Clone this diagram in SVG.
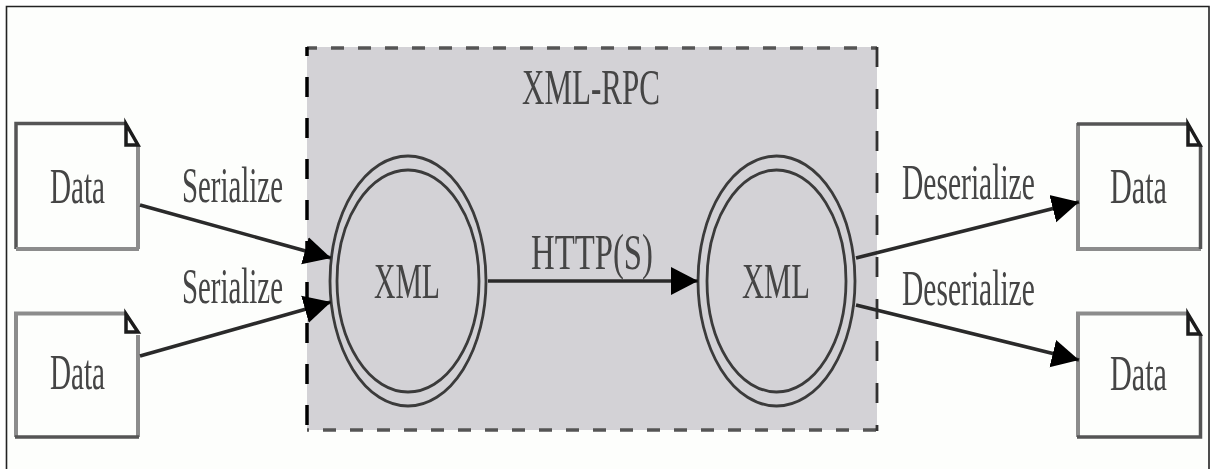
<svg xmlns="http://www.w3.org/2000/svg" width="1214" height="469" viewBox="0 0 1214 469">
<style>
text{font-family:"Liberation Serif","Times New Roman",serif;font-size:50px;fill:#444;text-anchor:start}
.paper{fill:#fdfefc}
.dk{fill:none;stroke:#555;stroke-width:3.5}
.lt{fill:none;stroke:#8c8c8c;stroke-width:4}
.fold{fill:#fdfefc;stroke:#1a1a1a;stroke-width:3.5}
.oval{fill:#d3d2d6;stroke:#3a3a3a;stroke-width:2.8}
.edge{fill:none;stroke:#2a2a2a;stroke-width:3.6}
.dash{fill:none;stroke:#555;stroke-width:3.5;stroke-dasharray:13 14}
.vdash{fill:none;stroke-width:3.5;stroke-dasharray:20 21}
</style>
<defs>
<filter id="soft" x="-1%" y="-1%" width="102%" height="102%"><feGaussianBlur stdDeviation="0.45"/></filter>
<marker id="arrow" markerUnits="userSpaceOnUse" markerWidth="28" markerHeight="30" refX="27" refY="15" orient="auto"><path d="M0 1L27 15L0 29Z" fill="#000"/></marker>
</defs>
<rect width="1214" height="469" fill="#fff"/>
<g filter="url(#soft)">
<path d="M6.500 469V6.500H1209V469" fill="#fdfefc" stroke="#222" stroke-width="1.6"/>
<g id="cluster">
<rect x="307" y="47" width="570" height="383" fill="#d3d2d6"/>
<path class="dash" style="stroke-dashoffset:3" d="M307 48H877"/>
<path class="dash" style="stroke-dashoffset:11" d="M307 430H877"/>
<path class="vdash" style="stroke:#000;stroke-dashoffset:11" d="M307 47V431"/>
<path class="vdash" style="stroke:#333;stroke-width:2.8;stroke-dasharray:20 22" d="M877 47V431"/>
<text x="522" y="104" textLength="138" lengthAdjust="spacingAndGlyphs">XML-RPC</text>
</g>
<g id="doc1"><path class="paper" d="M16 123H126L139 146V249H16Z"/><path class="dk" d="M16 249V123.500H126"/><path class="lt" d="M138 146V249M16 249H139"/><path class="fold" d="M126 124V145H138Z"/><text x="50" y="203" textLength="55" lengthAdjust="spacingAndGlyphs">Data</text></g>
<g id="doc2"><path class="paper" d="M16 313H126L139 335V437H16Z"/><path class="lt" d="M16 437V313.500H126M138 335V437"/><path class="dk" d="M15 437H139"/><path class="fold" d="M126 314V332H138Z"/><text x="50" y="389" textLength="55" lengthAdjust="spacingAndGlyphs">Data</text></g>
<g id="doc3"><path class="paper" d="M1078 123H1188L1201 146V249H1078Z"/><path class="lt" d="M1078 123V249H1201"/><path class="dk" d="M1077 124H1188M1200.500 146V249"/><path class="fold" d="M1188 124V145H1200Z"/><text x="1110" y="203" textLength="57" lengthAdjust="spacingAndGlyphs">Data</text></g>
<g id="doc4"><path class="paper" d="M1078 313H1188L1201 335V437H1078Z"/><path class="lt" d="M1078 437V313.500H1188"/><path class="dk" d="M1200.500 335V437H1077"/><path class="fold" d="M1188 314V334H1200Z"/><text x="1110" y="390" textLength="57" lengthAdjust="spacingAndGlyphs">Data</text></g>
<g id="xml1"><ellipse class="oval" cx="408" cy="281" rx="78" ry="125"/><ellipse class="oval" cx="408" cy="281" rx="71" ry="111"/><text x="374" y="298" textLength="66" lengthAdjust="spacingAndGlyphs">XML</text></g>
<g id="xml2"><ellipse class="oval" cx="776.500" cy="281" rx="78.500" ry="125"/><ellipse class="oval" cx="776.500" cy="281" rx="69.500" ry="111"/><text x="742" y="298" textLength="68" lengthAdjust="spacingAndGlyphs">XML</text></g>
<g id="connectors">
<path class="edge" marker-end="url(#arrow)" d="M140 205L331 258"/>
<path class="edge" marker-end="url(#arrow)" d="M140 356L331 302"/>
<path class="edge" marker-end="url(#arrow)" d="M488 281H698"/>
<path class="edge" marker-end="url(#arrow)" d="M856 258L1079 202"/>
<path class="edge" marker-end="url(#arrow)" d="M856 305L1079 360"/>
</g>
<g id="labels">
<text x="182" y="202" textLength="101" lengthAdjust="spacingAndGlyphs">Serialize</text>
<text x="182" y="303" textLength="101" lengthAdjust="spacingAndGlyphs">Serialize</text>
<text x="531" y="269" textLength="122" lengthAdjust="spacingAndGlyphs">HTTP(S)</text>
<text transform="translate(902 199) scale(.591 1)">Deserialize</text>
<text transform="translate(902 305) scale(.591 1)">Deserialize</text>
</g>
</g>
</svg>
